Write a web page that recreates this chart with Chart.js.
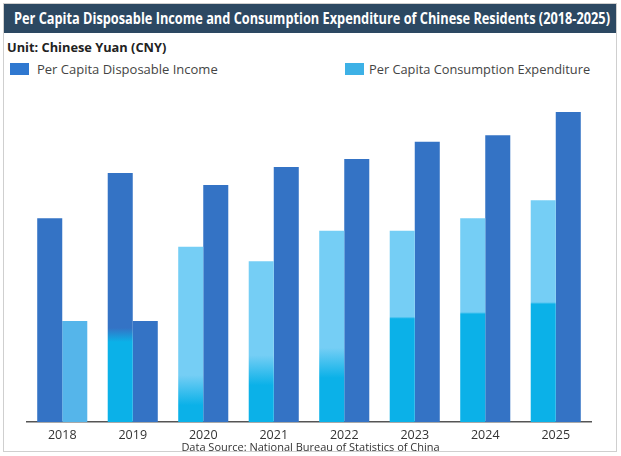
<!DOCTYPE html>
<html>
<head>
<meta charset="utf-8">
<script src="https://cdn.jsdelivr.net/npm/chart.js@4"></script>
<style>
  html, body { margin: 0; padding: 0; background: #fff; }
  #frame { position: relative; width: 621px; height: 456px; overflow: hidden; font-family: "Open Sans", "Noto Sans", sans-serif; }
  #border { position: absolute; left: 3px; top: 3px; width: 614px; height: 449px; border: 1px solid #cfcfcf; box-sizing: border-box; }
  #title { position: absolute; left: 4px; top: 4px; width: 612px; height: 29px; background: #2c4862; }
  #title span { position: absolute; left: 10px; top: 0; color: #fff; font-weight: bold; font-size: 16px;
                line-height: 29px; white-space: nowrap; transform-origin: 0 50%; }
  #unit { position: absolute; left: 7px; top: 38px; font-size: 12.8px; font-weight: bold; color: #222; }
  .leg { position: absolute; top: 60px; font-size: 13px; color: #444; white-space: nowrap; line-height: 18px; }
  .leg i { display: inline-block; width: 19px; height: 12px; vertical-align: -1px; margin-right: 8px; }
  #source { position: absolute; left: 0; width: 621px; top: 439px; text-align: center; font-size: 11px; color: #333; }
  #wrap { position: absolute; left: 0; top: 90px; width: 621px; height: 366px; }
</style>
</head>
<body>
<div id="frame">
  <div id="border"></div>
  <div id="title"><span>Per Capita Disposable Income and Consumption Expenditure of Chinese Residents (2018-2025)</span></div>
  <div id="unit">Unit: Chinese Yuan (CNY)</div>
  <div class="leg" style="left:10px"><i style="background:#2f78d0"></i>Per Capita Disposable Income</div>
  <div class="leg" style="left:345px;font-size:12.8px"><i style="background:#3db1e6;margin-right:5px"></i>Per Capita Consumption Expenditure</div>
  <div id="wrap"><canvas id="chart"></canvas></div>
  <div id="source">Data Source: National Bureau of Statistics of China</div>
</div>
<script>
// data (CNY)
const years = ['2018', '2019', '2020', '2021', '2022', '2023', '2024', '2025'];
// income bar drawn on the left of its pair (2018, 2019)
const incomeLeft = [30700, 37500, null, null, null, null, null, null];
// consumption bar
const consumption = [15200, 15200, 26400, 24200, 28800, 28800, 30700, 33400];
// income bar drawn on the right of its pair (2020-2025)
const incomeRight = [null, null, 35700, 38400, 39600, 42200, 43200, 46700];

const DARK = '#3473c5';
const LIGHT = '#75cef5';
const MID = '#55b5ea';
const CYAN = '#0bb1e8';

// lower cyan tone of some bars: level in CNY and blend width in px
const consBreak = [null, null, 4800, 7800, 8900, 15700, 16400, 17900];
const consBlend = [0, 0, 30, 30, 30, 2, 2, 2];
const incBreak = [null, 13100, null, null, null, null, null, null];
const incBlend = [0, 14, 0, 0, 0, 0, 0, 0];

// squeeze the title into the bar like the condensed face of the original
const t = document.querySelector('#title span');
t.style.transform = 'scaleX(' + (596 / t.getBoundingClientRect().width) + ')';

function toned(topColors, breaks, blends) {
  return function (c) {
    const i = c.dataIndex;
    const top = topColors[i];
    const chart = c.chart;
    const area = chart.chartArea;
    if (!area || breaks[i] == null) return top;
    const y = chart.scales.y.getPixelForValue(breaks[i]);
    const h = area.bottom - area.top;
    const f = (area.bottom - y) / h;
    const s = blends[i] / h / 2;
    const g = chart.ctx.createLinearGradient(0, area.bottom, 0, area.top);
    g.addColorStop(0, CYAN);
    g.addColorStop(Math.max(0, f - s), CYAN);
    g.addColorStop(Math.min(1, f + s), top);
    g.addColorStop(1, top);
    return g;
  };
}

const consColors = [MID, DARK, LIGHT, LIGHT, LIGHT, LIGHT, LIGHT, LIGHT];
const incColors = years.map(() => DARK);

new Chart(document.getElementById('chart'), {
  type: 'bar',
  data: {
    labels: years,
    datasets: [
      { label: 'Per Capita Disposable Income', data: incomeLeft, backgroundColor: toned(incColors, incBreak, incBlend) },
      { label: 'Per Capita Consumption Expenditure', data: consumption, backgroundColor: toned(consColors, consBreak, consBlend) },
      { label: 'Per Capita Disposable Income', data: incomeRight, backgroundColor: DARK }
    ]
  },
  options: {
    responsive: true,
    maintainAspectRatio: false,
    animation: false,
    skipNull: true,
    categoryPercentage: 0.71,
    barPercentage: 1,
    layout: { padding: { left: 27, right: 30, top: 0, bottom: 0 } },
    plugins: {
      legend: { display: false },
      tooltip: { enabled: false }
    },
    scales: {
      x: {
        grid: { display: false, drawTicks: false },
        border: { display: true, color: '#555', width: 1.5 },
        ticks: { color: '#333', padding: 6, font: { family: 'Open Sans', size: 12.5 } },
        afterFit: (s) => { s.height = 34; }
      },
      y: {
        display: false,
        min: 0,
        max: 50000
      }
    }
  }
});
</script>
</body>
</html>
